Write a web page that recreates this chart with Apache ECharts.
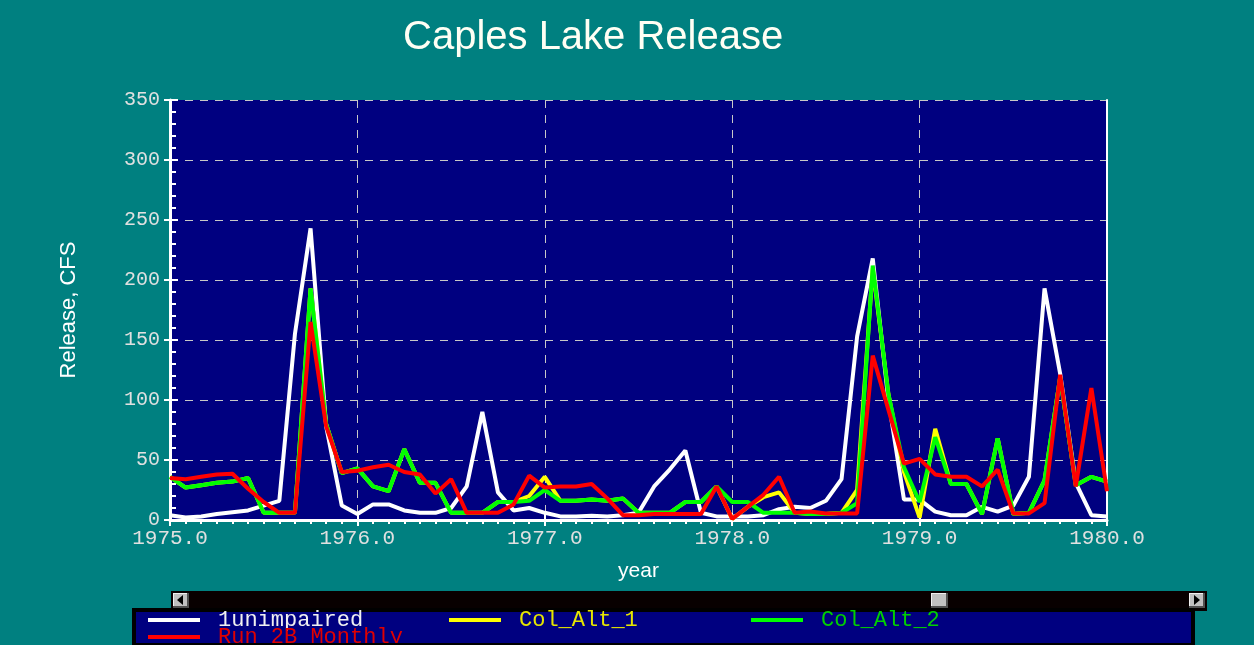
<!DOCTYPE html>
<html>
<head>
<meta charset="utf-8">
<title>Caples Lake Release</title>
<script src="https://cdn.jsdelivr.net/npm/echarts@6/dist/echarts.min.js"></script>
<style>
  html, body { margin: 0; padding: 0; background: #008080; }
  #chart { width: 1254px; height: 645px; }
</style>
</head>
<body>
<div id="chart"></div>
<script>
// monthly values, Jan 1975 .. Jan 1980
var startYear = 1975;
var unimpaired = [4, 2, 3, 5, 6.5, 8, 12, 16, 155, 243,
  78, 12, 5, 13, 13, 8, 6, 6, 10, 28,
  90, 23, 8, 10, 6, 3, 3, 3.5, 3, 4,
  6, 28, 42, 58, 6, 3, 3, 3, 4, 9,
  11, 10, 16, 34, 153, 218, 100, 17, 17, 7,
  4, 4, 11, 7, 12, 36, 193, 122, 31, 4,
  3];
var colAlt1 = [36, 27, 29, 31, 32, 35, 6, 6, 6, 193,
  80, 39, 43, 28, 24, 59, 31, 31, 6, 6,
  6, 15, 15, 20, 36, 16, 16, 17, 16, 18,
  6, 6, 6, 15, 15, 28, 1, 11, 19, 23,
  6, 5, 5, 6, 25, 210, 105, 40, 2, 76,
  30, 30, 5, 68, 5, 6, 33, 119, 29, 36,
  32];
var colAlt2 = [36, 27, 29, 31, 32, 35, 6, 6, 6, 193,
  80, 39, 43, 28, 24, 59, 31, 31, 6, 6,
  6, 15, 15, 16, 25, 16, 16, 17, 16, 18,
  6, 6, 6, 15, 15, 28, 15, 15, 6, 6,
  6, 5, 5, 6, 14, 212, 105, 44, 15, 69,
  30, 30, 5, 68, 5, 6, 33, 119, 29, 36,
  32];
var run2B = [35, 34, 36, 38, 38.5, 26, 15, 6, 6, 165,
  78, 40, 41, 44, 46, 40, 38, 22, 34, 6,
  6, 6, 13, 37, 27, 28, 28, 30, 18, 4,
  4, 5, 5, 5, 5, 28, 1, 11, 21, 36,
  6, 7, 5.5, 5.5, 5.5, 137, 92, 47, 51, 38,
  36, 36, 28, 42, 5.5, 5.5, 14, 121, 28, 110,
  24];
var seriesNames = ['1unimpaired', 'Col_Alt_1', 'Col_Alt_2', 'Run_2B_Monthly'];
var seriesColors = ['#ffffff', '#ffff00', '#00ff00', '#ff0000'];
var legendTextColors = ['#f0f0f0', '#e6e600', '#00d000', '#e00000'];

function toPoints(arr) {
  return arr.map(function (v, i) { return [startYear + i / 12, v]; });
}

var chart = echarts.init(document.getElementById('chart'));
var monoFont = 'Liberation Mono';
var sansFont = 'Liberation Sans';
var gridColor = '#c8c8c8';

var allValues = [unimpaired, colAlt1, colAlt2, run2B];
var series = allValues.map(function (arr, k) {
  return {
    name: seriesNames[k],
    type: 'line',
    data: toPoints(arr),
    showSymbol: false,
    symbol: 'none',
    lineStyle: { color: seriesColors[k], width: 4 },
    itemStyle: { color: seriesColors[k] },
    z: 2 + k,
    animation: false
  };
});

// legend laid out in three columns like the original
var legendPos = [[148, 609], [449, 609], [751, 609], [148, 626]];
var legends = seriesNames.map(function (n, k) {
  return {
    data: [n],
    left: legendPos[k][0],
    top: legendPos[k][1],
    padding: 0,
    icon: 'rect',
    itemWidth: 52,
    itemHeight: 4,
    selectedMode: false,
    z: 10,
    textStyle: {
      color: legendTextColors[k],
      fontFamily: monoFont,
      fontSize: 22,
      padding: [0, 0, 0, 13]
    }
  };
});

function button(x, y, w, h) {
  return [
    { type: 'rect', shape: { x: x, y: y, width: w, height: h }, style: { fill: '#505050' }, z: 3 },
    { type: 'rect', shape: { x: x, y: y, width: w - 2, height: h - 2 }, style: { fill: '#f0f0f0' }, z: 3 },
    { type: 'rect', shape: { x: x + 1, y: y + 1, width: w - 3, height: h - 3 }, style: { fill: '#c0c0c0' }, z: 3 }
  ];
}

var graphics = [
  { type: 'rect', shape: { x: 171, y: 591, width: 1036, height: 20 }, style: { fill: '#080000' }, z: 1 },
  { type: 'rect', shape: { x: 134, y: 610, width: 1059, height: 40 }, style: { fill: '#000080', stroke: '#000000', lineWidth: 4 }, z: 2 },
  // bottom edge of the legend panel, over the cut-off second row
  { type: 'rect', shape: { x: 132, y: 643, width: 1063, height: 2 }, style: { fill: '#000000' }, z: 20 }
].concat(button(173, 593, 16, 15), button(931, 593, 17, 15), button(1189, 593, 16, 15), [
  { type: 'polygon', shape: { points: [[177, 600], [183, 595], [183, 605]] }, style: { fill: '#000000' }, z: 4 },
  { type: 'polygon', shape: { points: [[1200, 600], [1194, 595], [1194, 605]] }, style: { fill: '#000000' }, z: 4 }
]);

var option = {
  backgroundColor: '#008080',
  animation: false,
  title: {
    text: 'Caples Lake Release',
    left: 398,
    top: 13,
    textStyle: { color: '#fffff4', fontFamily: sansFont, fontSize: 40, fontWeight: 'normal' }
  },
  legend: legends,
  grid: {
    left: 170, right: 147, top: 100, bottom: 125,
    show: true, backgroundColor: '#000080', borderWidth: 0
  },
  xAxis: [
    {
      type: 'value', min: 1975, max: 1980, interval: 1, position: 'bottom',
      name: 'year', nameLocation: 'middle', nameGap: 41,
      nameTextStyle: { color: '#ffffff', fontFamily: sansFont, fontSize: 21 },
      axisLine: { show: true, lineStyle: { color: '#ffffff', width: 3 } },
      axisTick: { show: true, inside: false, length: 6, lineStyle: { color: '#ffffff', width: 2 } },
      minorTick: { show: true, splitNumber: 12, length: 4, lineStyle: { color: '#ffffff', width: 2 } },
      axisLabel: {
        color: '#e0e0e0', fontFamily: monoFont, fontSize: 21, margin: 8,
        formatter: function (v) { return v.toFixed(1); }
      },
      splitLine: { show: true, lineStyle: { color: gridColor, width: 1, type: [8, 7] } }
    },
    {
      type: 'value', min: 1975, max: 1980, interval: 1, position: 'bottom',
      axisLine: { show: false },
      axisTick: { show: true, inside: true, length: 7, lineStyle: { color: '#ffffff', width: 2 } },
      axisLabel: { show: false },
      splitLine: { show: false }
    }
  ],
  yAxis: [
    {
      type: 'value', min: 0, max: 350, interval: 50, position: 'left',
      name: 'Release, CFS', nameLocation: 'middle', nameGap: 90,
      nameTextStyle: { color: '#ffffff', fontFamily: sansFont, fontSize: 22 },
      axisLine: { show: true, lineStyle: { color: '#ffffff', width: 3 } },
      axisTick: { show: true, inside: true, length: 8, lineStyle: { color: '#ffffff', width: 2 } },
      minorTick: { show: true, splitNumber: 5, length: 6, lineStyle: { color: '#ffffff', width: 2 } },
      axisLabel: { color: '#e0e0e0', fontFamily: monoFont, fontSize: 20, margin: 10 },
      splitLine: { show: true, lineStyle: { color: gridColor, width: 1, type: [8, 7] } }
    },
    {
      type: 'value', min: 0, max: 350, interval: 50, position: 'left',
      axisLine: { show: false },
      axisTick: { show: true, inside: false, length: 6, lineStyle: { color: '#ffffff', width: 2 } },
      axisLabel: { show: false },
      splitLine: { show: false }
    },
    {
      type: 'value', min: 0, max: 350, position: 'right',
      axisLine: { show: true, lineStyle: { color: '#ffffff', width: 2 } },
      axisTick: { show: false },
      axisLabel: { show: false },
      splitLine: { show: false }
    }
  ],
  graphic: graphics,
  series: series
};

chart.setOption(option);
</script>
</body>
</html>
